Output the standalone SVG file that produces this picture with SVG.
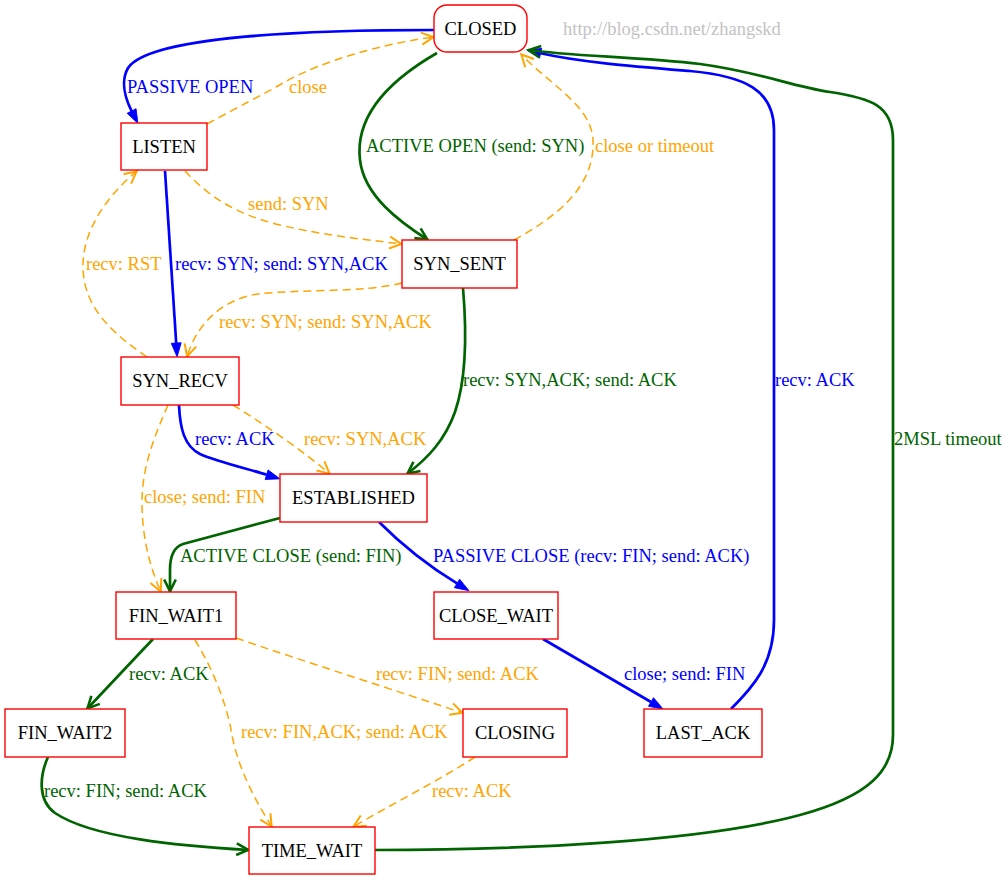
<svg xmlns="http://www.w3.org/2000/svg" width="1007" height="880" viewBox="0 0 1007 880">
  <style>
    text { font-family: "Liberation Serif", "Times New Roman", serif; font-size: 18.5px; }
    .node rect { fill: #ffffff; stroke: #ff0000; stroke-width: 1.4; }
    .node text { fill: #000000; text-anchor: middle; }
    .edge { fill: none; }
    .blue { stroke: #0000ff; stroke-width: 2.7; marker-end: url(#tri-blue); }
    .green { stroke: #006400; stroke-width: 2.7; marker-end: url(#vee-green); }
    .orange { stroke: #ffa500; stroke-width: 1.5; stroke-dasharray: 8 5; marker-end: url(#vee-orange); }
    .lb { fill: #0000ff; }
    .lg { fill: #006400; }
    .lo { fill: #ffa500; }
    .mark { fill: #c3c3c3; }
  </style>
  <defs>
    <!-- filled triangle, base sits on the path end -->
    <marker id="tri-blue" markerUnits="userSpaceOnUse" viewBox="0 -6 15 12" refX="0" refY="0" markerWidth="15" markerHeight="12" orient="auto" overflow="visible">
      <path d="M0,-5 L14,0 L0,5 z" fill="#0000ff" stroke="#0000ff" stroke-width="0.8"/>
    </marker>
    <!-- open chevrons, tip sits on the path end -->
    <marker id="vee-green" markerUnits="userSpaceOnUse" viewBox="-14 -7 16 14" refX="0" refY="0" markerWidth="16" markerHeight="14" orient="auto" overflow="visible">
      <path d="M-12.5,-5.8 L-0.8,0 L-12.5,5.8" fill="none" stroke="#006400" stroke-width="2.6"/>
    </marker>
    <marker id="vee-orange" markerUnits="userSpaceOnUse" viewBox="-14 -7 16 14" refX="0" refY="0" markerWidth="16" markerHeight="14" orient="auto" overflow="visible">
      <path d="M-12.5,-6 L-0.6,0 L-12.5,6" fill="none" stroke="#ffa500" stroke-width="2"/>
    </marker>
  </defs>

  <rect x="0" y="0" width="1007" height="880" fill="#ffffff"/>

  <g id="connectors">
    <!-- CLOSED -> LISTEN -->
    <path class="edge blue" d="M434,30 C310,30 150,36 128,68 C120,82 126,100 131.6,111"/>
    <!-- LISTEN -> CLOSED -->
    <path class="edge orange" d="M207,124 C240,106 262,95 285,82 C320,62 380,44 434,37"/>
    <!-- CLOSED -> SYN_SENT -->
    <path class="edge green" d="M437,53 C385,83 355,118 360,160 C364,196 400,222 428,240"/>
    <!-- SYN_SENT -> CLOSED -->
    <path class="edge orange" d="M514,240 C560,215 595,185 593,140 C591,105 550,85 521,54"/>
    <!-- LAST_ACK -> CLOSED -->
    <path class="edge blue" d="M731,709 C752,688 774,665 774,620 L774,130 C774,90 745,76 690,71 C630,66 580,62 540.6,53.2"/>
    <!-- TIME_WAIT -> CLOSED -->
    <path class="edge green" d="M375,850 C520,850 700,842 800,815 C870,796 893,770 893,735 L893,140 C893,105 870,98 830,92 C790,86 760,72 700,64 C640,57 570,56 528,50"/>
    <!-- LISTEN -> SYN_SENT -->
    <path class="edge orange" d="M185,171 C208,196 235,214 280,225 C322,235 360,239 402,244"/>
    <!-- LISTEN -> SYN_RECV -->
    <path class="edge blue" d="M165,171 L176.2,343"/>
    <!-- SYN_RECV -> LISTEN -->
    <path class="edge orange" d="M147,357 C112,333 84,308 83,268 C82,230 108,195 137,171"/>
    <!-- SYN_SENT -> SYN_RECV -->
    <path class="edge orange" d="M402,283 C362,293 300,289 258,294 C222,299 196,325 187,357"/>
    <!-- SYN_SENT -> ESTABLISHED -->
    <path class="edge green" d="M463,288 C467,335 466,380 455,412 C445,440 428,458 407,474"/>
    <!-- SYN_RECV -> ESTABLISHED (ACK) -->
    <path class="edge blue" d="M179,405 C180,428 184,446 200,454 C218,462 245,468 266.6,474.7"/>
    <!-- SYN_RECV -> ESTABLISHED (SYN,ACK) -->
    <path class="edge orange" d="M233,405 C262,423 302,450 330,474"/>
    <!-- SYN_RECV -> FIN_WAIT1 -->
    <path class="edge orange" d="M168,405 C154,437 142,468 142,502 C142,542 152,572 161,592"/>
    <!-- ESTABLISHED -> FIN_WAIT1 -->
    <path class="edge green" d="M280,518 L183,544 C174,547 170,556 170,570 L170,592"/>
    <!-- ESTABLISHED -> CLOSE_WAIT -->
    <path class="edge blue" d="M379,522 C403,546 430,567 457,583.4"/>
    <!-- FIN_WAIT1 -> FIN_WAIT2 -->
    <path class="edge green" d="M153,639 L87,709"/>
    <!-- FIN_WAIT1 -> CLOSING -->
    <path class="edge orange" d="M236,638 C300,660 400,692 463,713"/>
    <!-- FIN_WAIT1 -> TIME_WAIT -->
    <path class="edge orange" d="M195,640 C211,666 226,700 232,735 C238,768 255,800 272,827"/>
    <!-- FIN_WAIT2 -> TIME_WAIT -->
    <path class="edge green" d="M48,757 C40,775 37,800 55,813 C92,838 180,846 249,850"/>
    <!-- CLOSING -> TIME_WAIT -->
    <path class="edge orange" d="M475,757 C440,780 390,805 353,827"/>
    <!-- CLOSE_WAIT -> LAST_ACK -->
    <path class="edge blue" d="M543,639 L651,702"/>

    <g id="edge-labels">
      <text class="lb" x="127" y="93">PASSIVE OPEN</text>
      <text class="lo" x="289" y="93">close</text>
      <text class="lg" x="366" y="152">ACTIVE OPEN (send: SYN)</text>
      <text class="lo" x="595" y="152">close or timeout</text>
      <text class="lo" x="248" y="210">send: SYN</text>
      <text class="lo" x="86" y="270">recv: RST</text>
      <text class="lb" x="175" y="270">recv: SYN; send: SYN,ACK</text>
      <text class="lo" x="219" y="328">recv: SYN; send: SYN,ACK</text>
      <text class="lg" x="463" y="386">recv: SYN,ACK; send: ACK</text>
      <text class="lb" x="775" y="386">recv: ACK</text>
      <text class="lb" x="195" y="445">recv: ACK</text>
      <text class="lo" x="304" y="445">recv: SYN,ACK</text>
      <text class="lg" x="894" y="445">2MSL timeout</text>
      <text class="lo" x="144" y="503">close; send: FIN</text>
      <text class="lg" x="180" y="562">ACTIVE CLOSE (send: FIN)</text>
      <text class="lb" x="433" y="562">PASSIVE CLOSE (recv: FIN; send: ACK)</text>
      <text class="lg" x="129" y="680">recv: ACK</text>
      <text class="lo" x="376" y="680">recv: FIN; send: ACK</text>
      <text class="lb" x="624" y="680">close; send: FIN</text>
      <text class="lo" x="241" y="738">recv: FIN,ACK; send: ACK</text>
      <text class="lg" x="44" y="797">recv: FIN; send: ACK</text>
      <text class="lo" x="432" y="797">recv: ACK</text>
    </g>
  </g>

  <g id="CLOSED" class="node">
    <rect x="434" y="5" width="93" height="47" rx="13" ry="13"/>
    <text x="480.5" y="34.6">CLOSED</text>
  </g>
  <g id="LISTEN" class="node">
    <rect x="121" y="123" width="86" height="47"/>
    <text x="164" y="152.6">LISTEN</text>
  </g>
  <g id="SYN_SENT" class="node">
    <rect x="402" y="240" width="115" height="48"/>
    <text x="459.5" y="270.1">SYN_SENT</text>
  </g>
  <g id="SYN_RECV" class="node">
    <rect x="121" y="357" width="118" height="48"/>
    <text x="180" y="387.1">SYN_RECV</text>
  </g>
  <g id="ESTABLISHED" class="node">
    <rect x="280" y="474" width="147" height="48"/>
    <text x="353.5" y="504.1">ESTABLISHED</text>
  </g>
  <g id="FIN_WAIT1" class="node">
    <rect x="116" y="592" width="120" height="47"/>
    <text x="176" y="621.6">FIN_WAIT1</text>
  </g>
  <g id="CLOSE_WAIT" class="node">
    <rect x="434" y="592" width="124" height="47"/>
    <text x="496" y="621.6">CLOSE_WAIT</text>
  </g>
  <g id="FIN_WAIT2" class="node">
    <rect x="5" y="709" width="120" height="48"/>
    <text x="65" y="739.1">FIN_WAIT2</text>
  </g>
  <g id="CLOSING" class="node">
    <rect x="463" y="709" width="104" height="48"/>
    <text x="515" y="739.1">CLOSING</text>
  </g>
  <g id="LAST_ACK" class="node">
    <rect x="644" y="709" width="118" height="48"/>
    <text x="703" y="739.1">LAST_ACK</text>
  </g>
  <g id="TIME_WAIT" class="node">
    <rect x="249" y="827" width="126" height="47"/>
    <text x="312" y="856.6">TIME_WAIT</text>
  </g>

  <text class="mark" x="563" y="34.5">http://blog.csdn.net/zhangskd</text>
</svg>
